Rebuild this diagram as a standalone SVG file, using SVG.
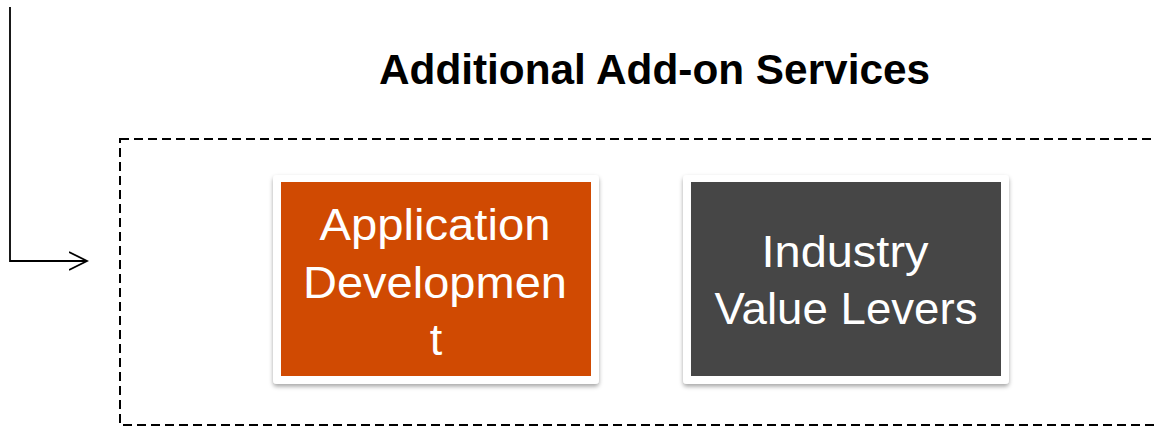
<svg xmlns="http://www.w3.org/2000/svg" width="1155" height="427" viewBox="0 0 1155 427">
  <style>
    .title { font-family: "Liberation Sans", Arial, sans-serif; font-weight: bold; font-size: 42px; fill: #000; }
    .lbl { font-family: "Liberation Sans", Arial, sans-serif; font-size: 45px; fill: #fff; text-anchor: middle; }
    .frame { fill: #fff; }
    .conn { fill: none; stroke: #000; stroke-width: 1.8; }
    .dash { fill: none; stroke: #000; stroke-width: 2; stroke-dasharray: 9 5; }
  </style>
  <defs>
    <filter id="shadow" x="-10%" y="-10%" width="120%" height="130%">
      <feDropShadow dx="0" dy="2.5" stdDeviation="2" flood-color="#000" flood-opacity="0.35"/>
    </filter>
    <marker id="open" markerWidth="20" markerHeight="22" refX="18" refY="10" orient="auto" markerUnits="userSpaceOnUse">
      <path d="M0,1 L18,10 L0,19" fill="none" stroke="#000" stroke-width="1.8"/>
    </marker>
  </defs>
  <rect width="1155" height="427" fill="#fff"/>

  <text id="title" class="title" x="379" y="84" textLength="551" lengthAdjust="spacingAndGlyphs">Additional Add-on Services</text>

  <g id="container">
    <rect class="dash" x="120" y="139" width="1060" height="286"/>
  </g>

  <g id="connectors">
    <path class="conn" d="M10,7 L10,261 L87,261" marker-end="url(#open)"/>
  </g>

  <g id="node-app-dev">
    <rect class="frame" x="273" y="175" width="326" height="209" rx="4" filter="url(#shadow)"/>
    <rect x="281" y="182" width="310" height="194" fill="#D04A02"/>
    <text class="lbl" x="435" y="240" textLength="231" lengthAdjust="spacingAndGlyphs">Application</text>
    <text class="lbl" x="435" y="298" textLength="264" lengthAdjust="spacingAndGlyphs">Developmen</text>
    <text class="lbl" x="436" y="355">t</text>
  </g>

  <g id="node-industry">
    <rect class="frame" x="683" y="175" width="326" height="209" rx="4" filter="url(#shadow)"/>
    <rect x="691" y="182" width="310" height="194" fill="#464646"/>
    <text class="lbl" x="845" y="267" textLength="167" lengthAdjust="spacingAndGlyphs">Industry</text>
    <text class="lbl" x="846" y="324" textLength="263" lengthAdjust="spacingAndGlyphs">Value Levers</text>
  </g>
</svg>
